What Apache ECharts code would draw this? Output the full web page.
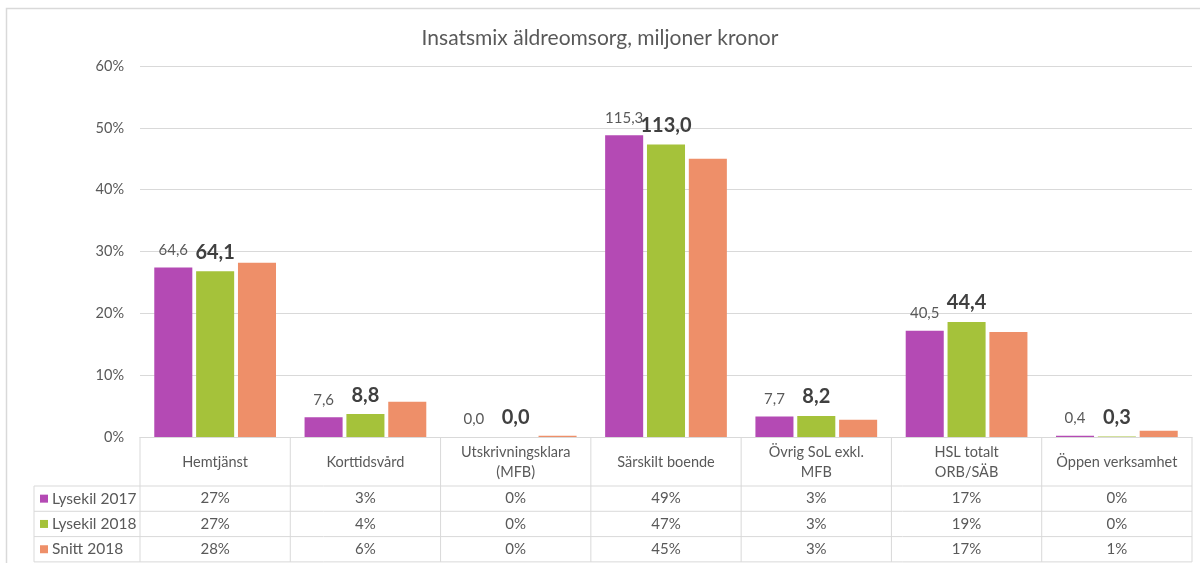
<!DOCTYPE html>
<html>
<head>
<meta charset="utf-8">
<script src="https://cdn.jsdelivr.net/npm/echarts@6/dist/echarts.min.js"></script>
<style>
  html, body { margin: 0; padding: 0; background: #fff; }
  #chart { width: 1200px; height: 563px; }
</style>
</head>
<body>
<div id="chart"></div>
<script>
// categories and series
var categories = ['Hemtjänst', 'Korttidsvård', 'Utskrivningsklara\n(MFB)', 'Särskilt boende',
  'Övrig SoL exkl.\nMFB', 'HSL totalt\nORB/SÄB', 'Öppen verksamhet'];
var seriesNames = ['Lysekil 2017', 'Lysekil 2018', 'Snitt 2018'];
var colors = ['#b44ab4', '#a5c23a', '#ee8f69'];

// share of total (%) - bar heights
var share2017 = [27.4, 3.2, 0.0, 48.8, 3.3, 17.2, 0.2];
var share2018 = [26.8, 3.7, 0.0, 47.3, 3.4, 18.6, 0.1];
var shareSnitt = [28.2, 5.7, 0.2, 45.0, 2.8, 17.0, 1.0];

// miljoner kronor - labels over the bars
var mkr2017 = ['64,6', '7,6', '0,0', '115,3', '7,7', '40,5', '0,4'];
var mkr2018 = ['64,1', '8,8', '0,0', '113,0', '8,2', '44,4', '0,3'];

// data table rows
var table2017 = ['27%', '3%', '0%', '49%', '3%', '17%', '0%'];
var table2018 = ['27%', '4%', '0%', '47%', '3%', '19%', '0%'];
var tableSnitt = ['28%', '6%', '0%', '45%', '3%', '17%', '1%'];
var tableRows = [table2017, table2018, tableSnitt];

var yTicks = [0, 10, 20, 30, 40, 50, 60];

var font = 'Lato';
var gridCol = '#d9d9d9';
var textCol = '#595959';

var chart = echarts.init(document.getElementById('chart'));

var option = {
  backgroundColor: '#fff',
  animation: false,
  title: {
    text: 'Insatsmix äldreomsorg, miljoner kronor',
    left: 'center',
    top: 23,
    textStyle: { fontFamily: font, fontSize: 21, fontWeight: 'normal', color: textCol }
  },
  grid: { left: 140, right: 8, top: 66, bottom: 126 },
  xAxis: {
    type: 'category',
    data: categories,
    axisLine: { lineStyle: { color: gridCol } },
    axisTick: { show: false },
    axisLabel: { show: false }
  },
  yAxis: {
    type: 'value',
    min: yTicks[0],
    max: yTicks[yTicks.length - 1],
    interval: 10,
    axisLine: { show: false },
    axisTick: { show: false },
    axisLabel: { formatter: '{value}%', fontFamily: font, fontSize: 14.5, color: textCol, margin: 16 },
    splitLine: { lineStyle: { color: gridCol } }
  },
  series: [
    {
      name: seriesNames[0], type: 'bar', data: share2017,
      barCategoryGap: '19%', barGap: '10%',
      itemStyle: { color: colors[0] },
      label: {
        show: true, position: 'top', distance: 10,
        formatter: function (p) { return mkr2017[p.dataIndex]; },
        fontFamily: font, fontSize: 15, color: textCol
      }
    },
    {
      name: seriesNames[1], type: 'bar', data: share2018,
      barCategoryGap: '19%', barGap: '10%',
      itemStyle: { color: colors[1] },
      label: {
        show: true, position: 'top', distance: 9,
        formatter: function (p) { return mkr2018[p.dataIndex]; },
        fontFamily: font, fontSize: 20, fontWeight: 'bold', color: '#404040'
      }
    },
    {
      name: seriesNames[2], type: 'bar', data: shareSnitt,
      barCategoryGap: '19%', barGap: '10%',
      itemStyle: { color: colors[2] }
    }
  ]
};
chart.setOption(option);

// data table under the plot, placed from the axis scale
function buildTable() {
  var c0 = chart.convertToPixel({ xAxisIndex: 0 }, 0);
  var c1 = chart.convertToPixel({ xAxisIndex: 0 }, 1);
  var band = c1 - c0;
  var left = c0 - band / 2;
  var right = left + band * categories.length;
  var top = chart.convertToPixel({ yAxisIndex: 0 }, 0);
  var headH = 49, rowH = 25.3;
  var legLeft = 34;
  var g = [];
  var line = function (x1, y1, x2, y2) {
    g.push({ type: 'line', silent: true, shape: { x1: x1, y1: y1, x2: x2, y2: y2 },
      style: { stroke: gridCol, lineWidth: 1 } });
  };
  var bottom = top + headH + rowH * 3;
  // outer frame of chart area
  g.push({ type: 'rect', silent: true, shape: { x: 6.5, y: 8.5, width: 1200, height: 600 },
    style: { fill: null, stroke: gridCol, lineWidth: 1.5 }, z: -1 });
  for (var r = 1; r <= 3; r++) {
    line(legLeft, top + headH + rowH * (r - 1), right, top + headH + rowH * (r - 1));
  }
  line(legLeft, bottom, right, bottom);
  line(legLeft, top + headH, legLeft, bottom);
  for (var i = 0; i <= categories.length; i++) {
    line(left + band * i, top, left + band * i, bottom);
  }
  categories.forEach(function (cat, i) {
    var cx = left + band * (i + 0.5);
    g.push({ type: 'text', silent: true, style: {
      text: cat, x: cx, y: top + headH / 2 + 1, textAlign: 'center', textVerticalAlign: 'middle',
      font: '14.5px ' + font, fill: textCol, lineHeight: 20 } });
    tableRows.forEach(function (row, r) {
      g.push({ type: 'text', silent: true, style: {
        text: row[i], x: cx, y: top + headH + rowH * (r + 0.5), textAlign: 'center',
        textVerticalAlign: 'middle', font: '15px ' + font, fill: textCol } });
    });
  });
  seriesNames.forEach(function (name, r) {
    var cy = top + headH + rowH * (r + 0.5);
    g.push({ type: 'rect', silent: true, shape: { x: legLeft + 6, y: cy - 4, width: 8, height: 8 },
      style: { fill: colors[r] } });
    g.push({ type: 'text', silent: true, style: {
      text: name, x: legLeft + 18, y: cy, textAlign: 'left', textVerticalAlign: 'middle',
      font: '15.5px ' + font, fill: textCol } });
  });
  chart.setOption({ graphic: g });
}
buildTable();
</script>
</body>
</html>
